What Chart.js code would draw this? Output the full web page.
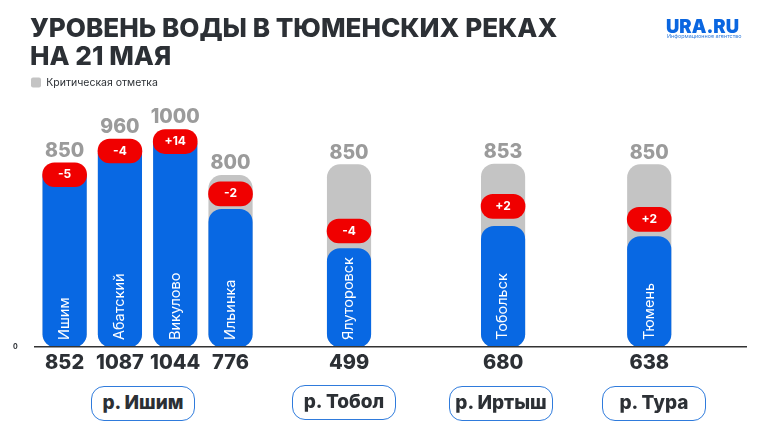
<!DOCTYPE html>
<html lang="ru">
<head>
<meta charset="utf-8">
<title>Уровень воды</title>
<script src="https://cdn.jsdelivr.net/npm/chart.js@4"></script>
<style>
html, body { margin: 0; padding: 0; background: #fff; }
#wrap { position: relative; width: 760px; height: 440px; overflow: hidden; font-family: Inter, sans-serif; }
canvas { position: absolute; left: 0; top: 0; }
.river {
    position: absolute; box-sizing: border-box; width: 104px; height: 35px;
    border: 1.5px solid #2f7bdc; border-radius: 13px; background: #fff;
    color: #2c3035; font-weight: 800; font-size: 19px; line-height: 32px; text-align: center;
}
#logo { position: absolute; left: 666px; top: 16px; color: #0a66e0; font-weight: 900; font-size: 18.5px; line-height: 20px; }
#logo_sub { position: absolute; left: 667px; top: 33px; color: #2f7bdc; font-size: 5.4px; line-height: 7px; white-space: nowrap; }
</style>
</head>
<body>
<div id="wrap">
    <canvas id="chart" width="760" height="440"></canvas>
    <div id="logo">URA.RU</div>
    <div id="logo_sub">Информационное агентство</div>
    <div class="river" style="left:91px;top:386px">р. Ишим</div>
    <div class="river" style="left:292px;top:385px">р. Тобол</div>
    <div class="river" style="left:449px;top:386px">р. Иртыш</div>
    <div class="river" style="left:602px;top:386px">р. Тура</div>
</div>
<script>
'use strict';

const title_lines = ['УРОВЕНЬ ВОДЫ В ТЮМЕНСКИХ РЕКАХ', 'НА 21 МАЯ'];
const legend_text = 'Критическая отметка';

const stations = ['Ишим', 'Абатский', 'Викулово', 'Ильинка', 'Ялуторовск', 'Тобольск', 'Тюмень'];
// numbers printed under the axis
const level_labels = [852, 1087, 1044, 776, 499, 680, 638];
// the blue bars in the picture are not to scale with the printed numbers, so read their heights
const bar_levels = [852, 960, 1000, 642, 459, 563, 515];
const critical_levels = [850, 960, 1000, 800, 850, 853, 850];
const change_labels = ['-5', '-4', '+14', '-2', '-4', '+2', '+2'];
// height of the middle of each red badge, read on the same axis
const change_levels = [803, 914, 958, 714, 541, 656, 595];

// empty category slots in front of each station, they give the uneven spacing
const slots_before = [7, 13, 13, 13, 29, 38, 36];
const slots_after = 24;
const BADGE_HALF = 56;

const labels = [];
stations.forEach((name, i) => {
    for (let k = 0; k < slots_before[i]; k++) labels.push('');
    labels.push(name);
});
for (let k = 0; k < slots_after; k++) labels.push('');

const FONT = 'Inter, sans-serif';

const station_text = {
    id: 'station_text',
    afterDatasetsDraw(chart) {
        const ctx = chart.ctx;
        const x_scale = chart.scales.x;
        const y_scale = chart.scales.y;
        ctx.save();
        stations.forEach((name, i) => {
            const x = x_scale.getPixelForValue(labels.indexOf(name));

            // critical value over the bar or its badge
            const badge_y = y_scale.getPixelForValue(change_levels[i] + BADGE_HALF);
            const top_y = Math.min(badge_y, y_scale.getPixelForValue(critical_levels[i]));
            ctx.font = `800 19.5px ${FONT}`;
            ctx.fillStyle = '#9b9b9b';
            ctx.textAlign = 'center';
            ctx.textBaseline = 'middle';
            ctx.fillText(critical_levels[i], x, top_y - 12);

            // change inside the badge
            ctx.font = `700 12px ${FONT}`;
            ctx.fillStyle = '#fff';
            ctx.fillText(change_labels[i], x, y_scale.getPixelForValue(change_levels[i]));

            // station name, rotated
            ctx.save();
            ctx.translate(x, y_scale.getPixelForValue(0) - 7);
            ctx.rotate(-Math.PI / 2);
            ctx.font = `400 14.5px ${FONT}`;
            ctx.textAlign = 'left';
            ctx.fillText(name, 0, 0);
            ctx.restore();
        });
        ctx.restore();
    }
};

new Chart(document.getElementById('chart'), {
    type: 'bar',
    data: {
        labels: labels,
        datasets: [
            {
                label: 'Изменение',
                data: stations.map((name, i) => ({ x: name, y: [change_levels[i] - BADGE_HALF, change_levels[i] + BADGE_HALF] })),
                backgroundColor: '#f00000',
                barThickness: 44,
                borderRadius: 12,
                borderSkipped: false
            },
            {
                label: 'Уровень',
                data: stations.map((name, i) => ({ x: name, y: bar_levels[i] })),
                backgroundColor: '#0868e3',
                barThickness: 43.5,
                borderRadius: 13,
                borderSkipped: false
            },
            {
                label: legend_text,
                data: stations.map((name, i) => ({ x: name, y: critical_levels[i] })),
                backgroundColor: '#c4c4c4',
                barThickness: 43.5,
                borderRadius: 13,
                borderSkipped: false
            }
        ]
    },
    plugins: [station_text],
    options: {
        responsive: false,
        animation: false,
        devicePixelRatio: 1,
        layout: { padding: { left: 30, right: 14, top: 16, bottom: 63 } },
        datasets: { bar: { grouped: false } },
        plugins: {
            tooltip: { enabled: false },
            title: {
                display: true,
                text: title_lines,
                align: 'start',
                color: '#2c3035',
                font: { family: FONT, size: 26.1, weight: '800', lineHeight: 1.04 },
                padding: { top: 0, bottom: 6 }
            },
            legend: {
                display: true,
                align: 'start',
                labels: {
                    filter: item => item.datasetIndex === 2,
                    boxWidth: 10,
                    boxHeight: 10,
                    useBorderRadius: true,
                    borderRadius: 2,
                    padding: 1,
                    color: '#2c3035',
                    font: { family: FONT, size: 10.5 }
                }
            }
        },
        scales: {
            x: {
                type: 'category',
                grid: { display: false },
                border: { display: true, color: '#333', width: 1.5, z: 1 },
                afterFit: scale => { scale.height = 30; },
                ticks: {
                    autoSkip: false,
                    maxRotation: 0,
                    minRotation: 0,
                    padding: -4,
                    color: '#2c3035',
                    font: { family: FONT, size: 20, weight: '800' },
                    callback: function(value) {
                        const i = stations.indexOf(this.getLabelForValue(value));
                        return i === -1 ? '' : String(level_labels[i]);
                    }
                }
            },
            y: {
                min: 0,
                max: 1162,
                grid: { display: false, drawTicks: false },
                border: { display: false },
                afterFit: scale => { scale.width = 5; },
                afterBuildTicks: scale => { scale.ticks = [{ value: 0 }]; },
                ticks: {
                    // mirror keeps the label from being clipped to the narrow axis box
                    mirror: true,
                    padding: -22,
                    color: '#2c3035',
                    font: { family: FONT, size: 7, weight: '700' }
                }
            }
        }
    }
});
</script>
</body>
</html>
